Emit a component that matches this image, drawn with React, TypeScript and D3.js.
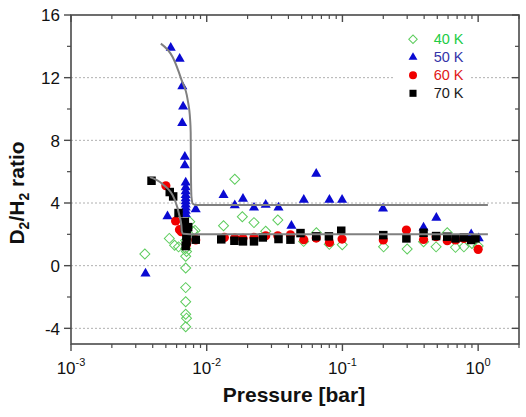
import React from "react";
import * as d3 from "d3";

// measured points: [pressure (bar), D2/H2 ratio]
const k40: [number, number][] = [
  [0.0035, 0.74], [0.0053, 1.74], [0.0058, 1.3], [0.0062, 1.2], [0.007, 1.6], [0.007, 1.1],
  [0.0071, 0.9], [0.007, 0.6], [0.007, -0.15], [0.007, -1.4], [0.007, -2.3], [0.007, -3.1],
  [0.0071, -3.35], [0.007, -3.9], [0.0075, 2.8], [0.0079, 2.2], [0.0082, 2.25], [0.0133, 2.55],
  [0.0161, 5.52], [0.0183, 3.12], [0.0223, 2.75], [0.0272, 2.2], [0.0334, 2.92], [0.0518, 1.55],
  [0.0643, 2.1], [0.08, 1.36], [0.0997, 1.34], [0.201, 1.2], [0.3, 1.06], [0.396, 1.53],
  [0.49, 1.2], [0.592, 2.1], [0.681, 1.17], [0.785, 1.2], [0.9, 1.42], [1.0, 1.26],
];
const k50: [number, number][] = [
  [0.00354, -0.5], [0.00514, 3.15], [0.00543, 13.9], [0.00632, 13.2], [0.00661, 11.45],
  [0.0067, 10.15], [0.0066, 9.1], [0.0069, 6.95], [0.0069, 6.4], [0.007, 5.3], [0.007, 5.0],
  [0.007, 4.75], [0.007, 4.5], [0.007, 4.3], [0.007, 4.1], [0.007, 3.9], [0.007, 3.7],
  [0.007, 3.5], [0.007, 3.3], [0.0083, 3.6], [0.0133, 4.5], [0.0161, 3.85], [0.0185, 4.27],
  [0.0223, 3.7], [0.0272, 3.89], [0.0338, 3.71], [0.0421, 2.55], [0.0519, 4.2], [0.0641, 5.86],
  [0.0802, 4.2], [0.0994, 4.2], [0.199, 3.64], [0.396, 2.43], [0.492, 3.05], [0.889, 2.0],
  [1.01, 1.75],
];
const k60: [number, number][] = [
  [0.005, 5.1], [0.0059, 2.85], [0.0063, 2.3], [0.0065, 2.17], [0.0071, 1.35], [0.0083, 1.64],
  [0.0135, 1.8], [0.0161, 1.76], [0.0185, 1.75], [0.0223, 1.8], [0.0272, 1.91], [0.0334, 1.91],
  [0.0414, 1.97], [0.0519, 1.66], [0.0641, 1.76], [0.0802, 1.48], [0.0994, 1.7], [0.2, 1.64],
  [0.296, 2.27], [0.396, 1.67], [0.49, 1.85], [0.592, 1.59], [0.681, 1.64], [0.785, 1.74],
  [1.0, 1.04],
];
const k70: [number, number][] = [
  [0.00392, 5.42], [0.00534, 4.7], [0.00566, 4.42], [0.0062, 3.36], [0.0069, 2.8], [0.0069, 2.4],
  [0.0071, 2.1], [0.0071, 1.9], [0.0071, 1.55], [0.007, 1.25], [0.0073, 2.46], [0.0083, 1.66],
  [0.0128, 1.68], [0.016, 1.59], [0.0185, 1.55], [0.0223, 1.55], [0.0259, 1.8], [0.0338, 1.7],
  [0.0414, 1.66], [0.0491, 2.08], [0.0641, 1.87], [0.0795, 1.87], [0.098, 2.23], [0.2, 1.95],
  [0.296, 1.74], [0.396, 2.1], [0.49, 1.89], [0.592, 1.85], [0.681, 1.74], [0.785, 1.8],
  [0.889, 1.64], [0.955, 1.74],
];

// fitted curves
const fit50: [number, number][] = [
  [0.00459, 14.17], [0.00562, 13.3], [0.00652, 11.86], [0.00724, 10.58], [0.00755, 9.3],
  [0.00762, 8.5], [0.00765, 6.0], [0.00772, 4.4], [0.0079, 3.95], [0.0083, 3.87], [1.18, 3.87],
];
const fit70: [number, number][] = [
  [0.00381, 5.65], [0.00474, 5.2], [0.00582, 4.2], [0.00632, 3.14], [0.0065, 2.6],
  [0.00655, 2.2], [0.0067, 2.03], [0.0075, 2.0], [1.18, 2.0],
];

const yMajor = [-4, 0, 4, 8, 12, 16];
const yMinor = [-2, 2, 6, 10, 14];
const gridY = [-4, 0, 4, 8, 12];
const xDecades = [-3, -2, -1, 0];
const legendLabels = ["40 K", "50 K", "60 K", "70 K"];

const W = 526;
const H = 417;
const m = { left: 71, right: 519, top: 15, bottom: 344 };

const x = d3.scaleLog().domain([1e-3, 2]).range([m.left, m.right]);
const y = d3.scaleLinear().domain([-5, 16]).range([m.bottom, m.top]);

const xMinor: number[] = [];
xDecades.forEach((e) => {
  for (let k = 2; k <= 9; k++) {
    const v = k * Math.pow(10, e);
    if (v <= 2) xMinor.push(v);
  }
});

const line = d3
  .line<[number, number]>()
  .x((d) => x(d[0]))
  .y((d) => y(d[1]))
  .curve(d3.curveMonotoneX);

const triangle = d3.symbol(d3.symbolTriangle, 44)()!;
const square = d3.symbol(d3.symbolSquare, 72)()!;
const diamond = d3.symbol(d3.symbolSquare, 50)()!;
const triangleSm = d3.symbol(d3.symbolTriangle, 34)()!;
const squareSm = d3.symbol(d3.symbolSquare, 50)()!;
const diamondSm = d3.symbol(d3.symbolSquare, 36)()!;

const font = "Arial, 'Liberation Sans', sans-serif";
const frame = "#4a4a4a";

const App: React.FC = () => {
  return (
    <svg
      width={W}
      height={H}
      style={{ position: "absolute", left: 0, top: 0, background: "#fff" }}
      fontFamily={font}
    >
      {/* grid */}
      {gridY.map((v) => (
        <line
          key={"g" + v}
          x1={m.left}
          x2={m.right}
          y1={y(v)}
          y2={y(v)}
          stroke="#b0b0b0"
          strokeWidth={1}
          strokeDasharray="2,2"
        />
      ))}

      {/* legend background */}
      <rect x={393} y={28} width={77} height={76} fill="#fff" />

      {/* 40 K */}
      {k40.map((d, i) => (
        <path
          key={"a" + i}
          d={diamond}
          transform={`translate(${x(d[0])},${y(d[1])}) rotate(45)`}
          fill="none"
          stroke="#5ccc5c"
          strokeWidth={1}
        />
      ))}
      {/* 50 K */}
      {k50.map((d, i) => (
        <path key={"b" + i} d={triangle} transform={`translate(${x(d[0])},${y(d[1])})`} fill="#0a0ad2" />
      ))}
      {/* 60 K */}
      {k60.map((d, i) => (
        <circle key={"c" + i} cx={x(d[0])} cy={y(d[1])} r={4.6} fill="#f00000" />
      ))}
      {/* 70 K */}
      {k70.map((d, i) => (
        <path key={"d" + i} d={square} transform={`translate(${x(d[0])},${y(d[1])})`} fill="#000" />
      ))}

      {/* fits */}
      <path d={line(fit50)!} fill="none" stroke="#808080" strokeWidth={2} />
      <path d={line(fit70)!} fill="none" stroke="#808080" strokeWidth={2} />

      {/* frame */}
      <rect
        x={m.left}
        y={m.top}
        width={m.right - m.left}
        height={m.bottom - m.top}
        fill="none"
        stroke={frame}
        strokeWidth={1.6}
      />

      {/* y ticks */}
      {yMajor.map((v) => (
        <g key={"ym" + v}>
          <line x1={m.left - 7} x2={m.left} y1={y(v)} y2={y(v)} stroke={frame} strokeWidth={1.4} />
          <line x1={m.right - 7} x2={m.right} y1={y(v)} y2={y(v)} stroke={frame} strokeWidth={1.4} />
          <text x={60} y={y(v) + 6.3} textAnchor="end" fontSize={17} fill="#111">
            {v}
          </text>
        </g>
      ))}
      {yMinor.map((v) => (
        <g key={"yn" + v}>
          <line x1={m.left - 4} x2={m.left} y1={y(v)} y2={y(v)} stroke={frame} strokeWidth={1.2} />
          <line x1={m.right - 4} x2={m.right} y1={y(v)} y2={y(v)} stroke={frame} strokeWidth={1.2} />
        </g>
      ))}

      {/* x ticks */}
      {xDecades.map((e) => {
        const px = x(Math.pow(10, e));
        return (
          <g key={"xm" + e}>
            <line x1={px} x2={px} y1={m.bottom} y2={m.bottom + 7} stroke={frame} strokeWidth={1.4} />
            <line x1={px} x2={px} y1={m.top} y2={m.top + 7} stroke={frame} strokeWidth={1.4} />
            <text x={px} y={373.7} textAnchor="middle" fontSize={17} fill="#111">
              10
              <tspan fontSize={11} dy={-8}>
                {e}
              </tspan>
            </text>
          </g>
        );
      })}
      {xMinor.map((v) => (
        <g key={"xn" + v}>
          <line x1={x(v)} x2={x(v)} y1={m.bottom} y2={m.bottom + 4} stroke={frame} strokeWidth={1.2} />
          <line x1={x(v)} x2={x(v)} y1={m.top} y2={m.top + 4} stroke={frame} strokeWidth={1.2} />
        </g>
      ))}

      {/* axis titles */}
      <text x={294} y={402} textAnchor="middle" fontSize={21} fontWeight="bold" fill="#111">
        Pressure [bar]
      </text>
      <text
        transform="translate(24,193) rotate(-90)"
        textAnchor="middle"
        fontSize={21}
        fontWeight="bold"
        fill="#111"
      >
        D<tspan fontSize={14} dy={5}>2</tspan>
        <tspan dy={-5}>/H</tspan>
        <tspan fontSize={14} dy={5}>2</tspan>
        <tspan dy={-5}> ratio</tspan>
      </text>

      {/* legend */}
      {legendLabels.map((lab, i) => {
        const ly = 39.3 + i * 18;
        const lx = 413;
        const colors = ["#22cc44", "#3434a8", "#e01818", "#1a1a1a"];
        let mark: React.ReactNode = null;
        if (i === 0)
          mark = (
            <path
              d={diamondSm}
              transform={`translate(${lx},${ly}) rotate(45)`}
              fill="none"
              stroke="#5ccc5c"
              strokeWidth={1}
            />
          );
        if (i === 1) mark = <path d={triangleSm} transform={`translate(${lx},${ly})`} fill="#0a0ad2" />;
        if (i === 2) mark = <circle cx={lx} cy={ly} r={4} fill="#f00000" />;
        if (i === 3) mark = <path d={squareSm} transform={`translate(${lx},${ly})`} fill="#000" />;
        return (
          <g key={lab}>
            {mark}
            <text x={433.7} y={ly + 5} fontSize={14.5} fill={colors[i]}>
              {lab}
            </text>
          </g>
        );
      })}
    </svg>
  );
};

export default App;
